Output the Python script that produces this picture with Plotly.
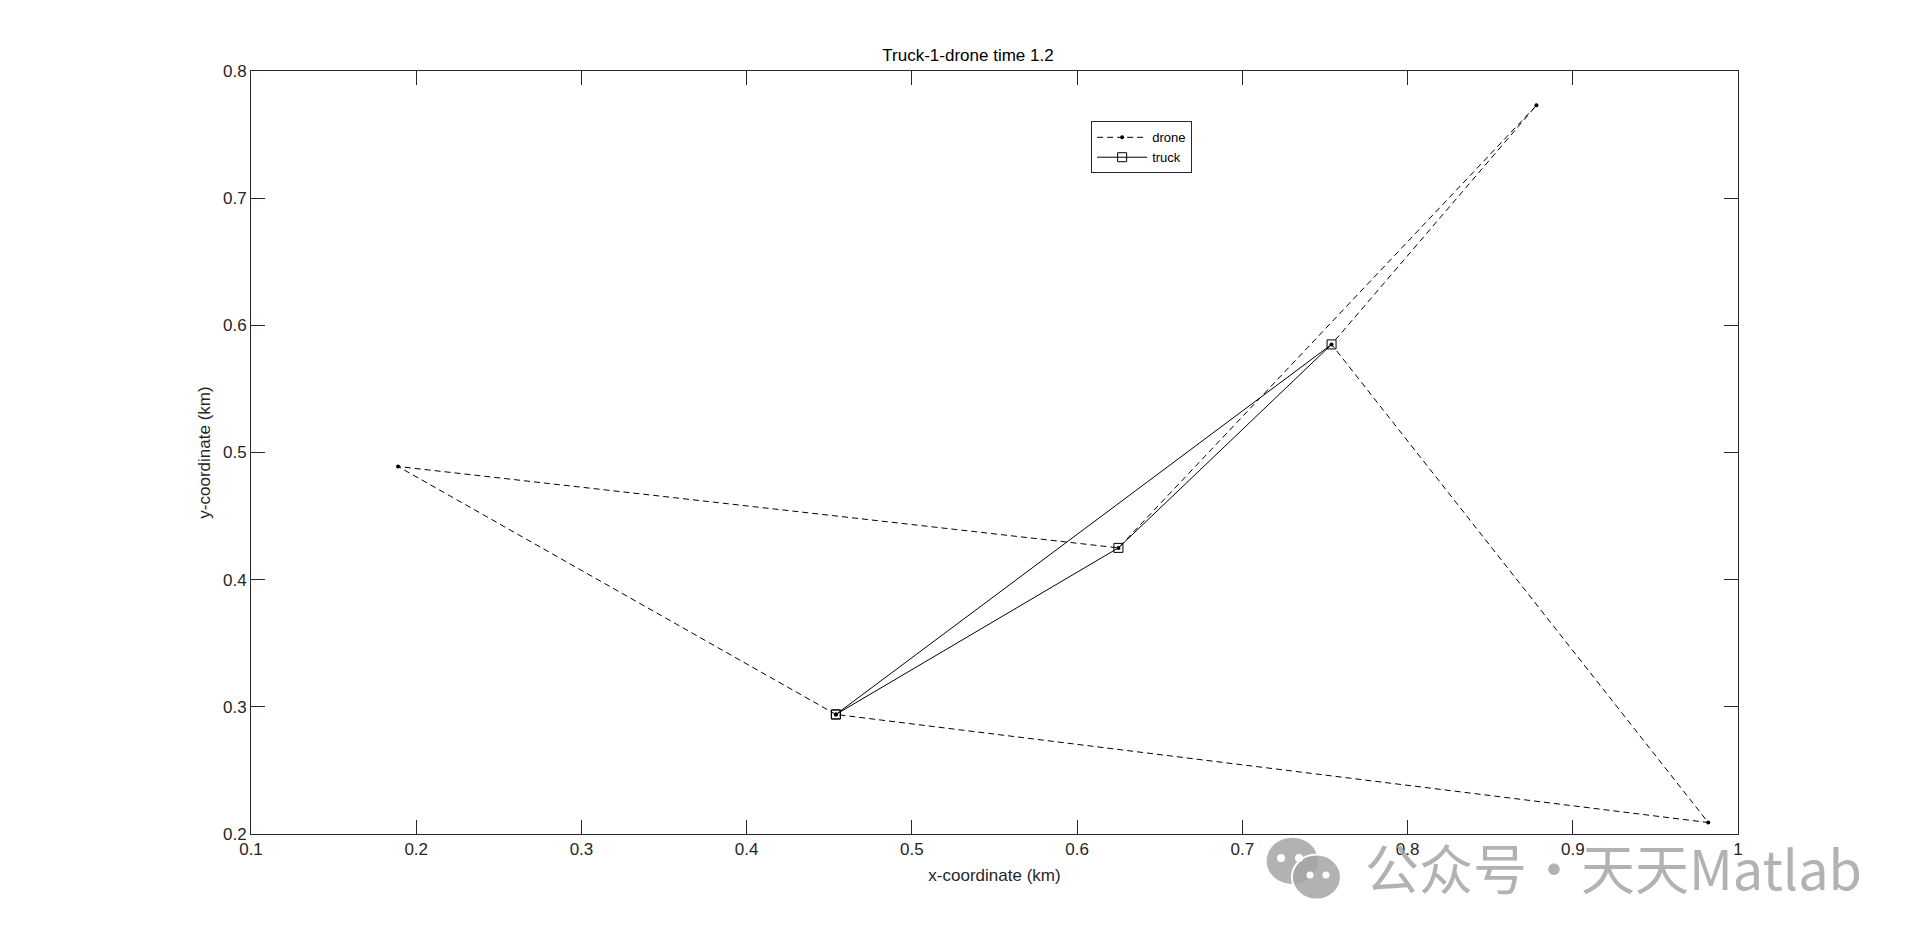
import plotly.graph_objects as go

# drone route (dashed, dot markers) and truck route (solid, square markers)
drone_x = [0.454, 0.189, 0.625, 0.878, 0.754, 0.982, 0.454]
drone_y = [0.294, 0.489, 0.425, 0.773, 0.585, 0.209, 0.294]

truck_x = [0.454, 0.625, 0.754, 0.454]
truck_y = [0.294, 0.425, 0.585, 0.294]

x_ticks = [0.1, 0.2, 0.3, 0.4, 0.5, 0.6, 0.7, 0.8, 0.9, 1]
y_ticks = [0.2, 0.3, 0.4, 0.5, 0.6, 0.7, 0.8]

FONT = "Liberation Sans, Arial, Helvetica, sans-serif"
AXIS_COLOR = "#262626"
MARK_GREY = "rgba(165,165,165,0.85)"

fig = go.Figure()

fig.add_trace(go.Scatter(
    x=drone_x, y=drone_y,
    mode="lines+markers",
    name="drone",
    line=dict(color="black", width=1, dash="6px,4px"),
    marker=dict(symbol="circle", size=4, color="black"),
))

fig.add_trace(go.Scatter(
    x=truck_x, y=truck_y,
    mode="lines+markers",
    name="truck",
    line=dict(color="black", width=1),
    marker=dict(symbol="square-open", size=9, color="black", line=dict(width=1)),
))

axis_common = dict(
    showgrid=False,
    zeroline=False,
    showline=True,
    linecolor=AXIS_COLOR,
    linewidth=1,
    mirror="ticks",
    ticks="inside",
    ticklen=14,
    tickwidth=1,
    tickcolor=AXIS_COLOR,
    automargin=False,
    tickfont=dict(family=FONT, size=17, color=AXIS_COLOR),
)

fig.update_xaxes(
    range=[0.1, 1],
    tickvals=x_ticks,
    ticktext=[f"{v:g}" for v in x_ticks],
    title=dict(text="x-coordinate (km)", font=dict(family=FONT, size=17, color=AXIS_COLOR), standoff=10),
    **axis_common,
)
fig.update_yaxes(
    range=[0.2, 0.8],
    tickvals=y_ticks,
    ticktext=[f"{v:g}" for v in y_ticks],
    title=dict(text="y-coordinate (km)", font=dict(family=FONT, size=17, color=AXIS_COLOR), standoff=8),
    **axis_common,
)

# watermark: text plus a rough two-bubble icon
fig.add_annotation(
    text="公众号·天天Matlab",
    xref="paper", yref="paper",
    x=1.085, y=-0.042,
    xanchor="right", yanchor="middle",
    showarrow=False,
    font=dict(family="Noto Sans CJK SC", size=54, color=MARK_GREY),
)
fig.add_shape(type="circle", xref="paper", yref="paper",
              x0=0.683, x1=0.7175, y0=-0.0655, y1=-0.005,
              fillcolor=MARK_GREY, line_width=0, layer="above")
fig.add_shape(type="circle", xref="paper", yref="paper",
              x0=0.7, x1=0.733, y0=-0.086, y1=-0.027,
              fillcolor=MARK_GREY, line=dict(color="white", width=2), layer="above")
for cx, cy, rx, ry in [(0.6927, -0.0315, 0.0027, 0.0052), (0.7048, -0.0315, 0.0027, 0.0052),
                       (0.7122, -0.0537, 0.0024, 0.0046), (0.7229, -0.0537, 0.0024, 0.0046)]:
    fig.add_shape(type="circle", xref="paper", yref="paper",
                  x0=cx - rx, x1=cx + rx, y0=cy - ry, y1=cy + ry,
                  fillcolor="white", line_width=0, layer="above")

fig.update_layout(
    width=1920, height=937,
    title=dict(text="Truck-1-drone time 1.2", x=0.5, xanchor="center", y=0.95, yanchor="middle",
               font=dict(family=FONT, size=17, color="black")),
    plot_bgcolor="white",
    paper_bgcolor="white",
    showlegend=True,
    legend=dict(
        x=0.565, y=0.934, xanchor="left", yanchor="top",
        bordercolor=AXIS_COLOR, borderwidth=1, bgcolor="white",
        font=dict(family=FONT, size=13, color="black"),
        tracegroupgap=0, itemwidth=50,
    ),
    margin=dict(l=243, r=190, t=63, b=111),
)

fig.write_html("out.html")
